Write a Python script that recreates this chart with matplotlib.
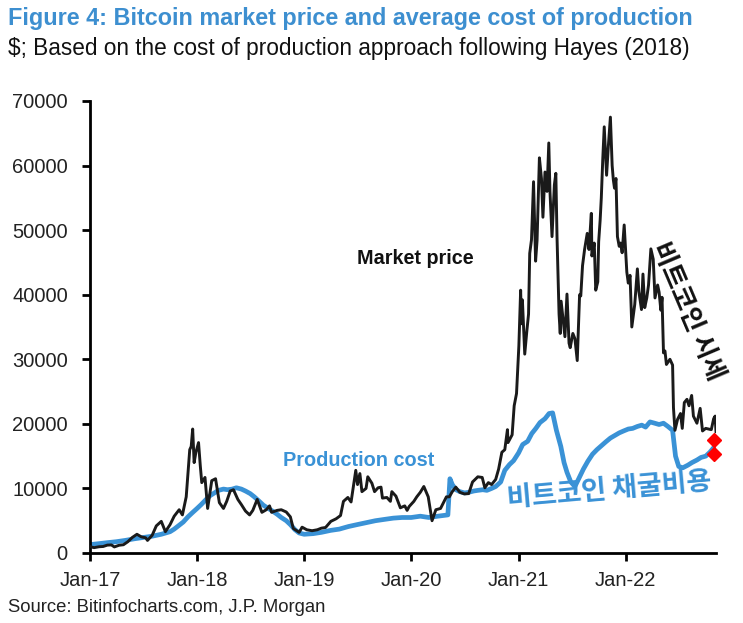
import matplotlib
matplotlib.use("Agg")
import matplotlib.pyplot as plt
import pandas as pd

# ---------------- data ----------------
price_dates = [
 "2017-01-01","2017-01-08","2017-01-15","2017-02-01","2017-02-15","2017-03-01","2017-03-15","2017-03-25",
 "2017-04-10","2017-04-25","2017-05-10","2017-05-25","2017-06-10","2017-06-25","2017-07-10",
 "2017-07-16","2017-08-01","2017-08-15","2017-09-01","2017-09-15","2017-10-01","2017-10-15",
 "2017-11-01","2017-11-12","2017-11-25","2017-12-07","2017-12-12","2017-12-17","2017-12-22",
 "2017-12-28","2018-01-06","2018-01-12","2018-01-17","2018-01-28","2018-02-06","2018-02-20",
 "2018-03-05","2018-03-18","2018-04-01","2018-04-12","2018-04-24","2018-05-05","2018-05-20",
 "2018-06-01","2018-06-15","2018-06-29","2018-07-10","2018-07-25","2018-08-10","2018-08-25",
 "2018-09-05","2018-09-12","2018-10-01","2018-10-15","2018-11-01","2018-11-15","2018-11-25",
 "2018-12-15","2018-12-25","2019-01-10","2019-01-28","2019-02-15","2019-03-01","2019-03-15",
 "2019-04-02","2019-04-20","2019-05-05","2019-05-15","2019-05-30","2019-06-10","2019-06-26",
 "2019-07-02","2019-07-10","2019-07-17","2019-07-31","2019-08-06","2019-08-20","2019-08-29",
 "2019-09-10","2019-09-20","2019-09-25","2019-10-10","2019-10-22","2019-10-27","2019-11-10",
 "2019-11-25","2019-12-10","2019-12-18","2019-12-25","2020-01-10","2020-01-20","2020-02-01",
 "2020-02-13","2020-02-28","2020-03-12","2020-03-25","2020-04-10","2020-04-30","2020-05-10",
 "2020-05-20","2020-06-01","2020-06-15","2020-06-30","2020-07-15","2020-07-28","2020-08-15",
 "2020-08-30","2020-09-08","2020-09-20","2020-10-01","2020-10-15","2020-10-25","2020-11-05",
 "2020-11-15","2020-11-24","2020-11-26","2020-12-10","2020-12-17","2020-12-25","2021-01-02",
 "2021-01-08","2021-01-11","2021-01-14","2021-01-22","2021-01-29","2021-02-04","2021-02-08",
 "2021-02-14","2021-02-21","2021-02-28","2021-03-05","2021-03-13","2021-03-20","2021-03-25",
 "2021-04-01","2021-04-08","2021-04-14","2021-04-18","2021-04-25","2021-05-03","2021-05-08",
 "2021-05-12","2021-05-19","2021-05-23","2021-05-26","2021-06-01","2021-06-08","2021-06-15",
 "2021-06-22","2021-06-26","2021-07-05","2021-07-12","2021-07-20","2021-07-28","2021-08-01",
 "2021-08-07","2021-08-14","2021-08-23","2021-08-29","2021-09-06","2021-09-08","2021-09-16",
 "2021-09-21","2021-09-28","2021-10-01","2021-10-06","2021-10-10","2021-10-15","2021-10-20",
 "2021-10-28","2021-11-03","2021-11-10","2021-11-16","2021-11-20","2021-11-24","2021-11-29",
 "2021-12-04","2021-12-10","2021-12-15","2021-12-20","2021-12-27","2022-01-05","2022-01-10",
 "2022-01-16","2022-01-22","2022-02-01","2022-02-10","2022-02-15","2022-02-24","2022-03-01",
 "2022-03-07","2022-03-14","2022-03-20","2022-03-28","2022-04-05","2022-04-11","2022-04-20",
 "2022-04-25","2022-05-01","2022-05-05","2022-05-10","2022-05-15","2022-05-20","2022-06-01",
 "2022-06-10","2022-06-13","2022-06-18","2022-06-27","2022-07-07","2022-07-13","2022-07-20",
 "2022-07-29","2022-08-05","2022-08-14","2022-08-20","2022-09-01","2022-09-12","2022-09-20",
 "2022-10-01","2022-10-10","2022-10-20","2022-10-28","2022-11-02","2022-11-05",
]
market_price = [
 1000, 900, 830, 970, 1010, 1220, 1250, 940,
 1200, 1280, 1750, 2400, 2900, 2500, 2350,
 1950, 2750, 4200, 4900, 3300, 4400, 5700,
 6700, 5900, 8700, 16000, 16500, 19200, 14000,
 15600, 17100, 13500, 10900, 11700, 6900, 11200,
 11500, 7800, 6900, 8000, 9600, 9800, 8300,
 7500, 6500, 5900, 6600, 8300, 6300, 6700,
 7300, 6300, 6600, 6700, 6350, 5600, 3800,
 3200, 4000, 3600, 3450, 3600, 3850, 3950,
 4900, 5300, 5800, 8000, 8600, 7900, 12800,
 10600, 12300, 9500, 10000, 11800, 10800, 9500,
 10100, 10200, 8500, 8600, 8000, 9500, 8800,
 7000, 7300, 6600, 7200, 8000, 8700, 9400,
 10300, 8700, 5000, 6700, 6900, 8700, 8700,
 9500, 10200, 9400, 9150, 9200, 11000, 11800,
 11700, 10100, 10900, 10600, 11400, 13000, 15600,
 16000, 19100, 17100, 18300, 22800, 24700, 32100,
 40700, 35500, 39200, 30800, 34300, 37000, 46400,
 48500, 57500, 45200, 48400, 61200, 58000, 52000,
 59000, 56000, 63500, 56000, 49000, 57000, 58800,
 49000, 37000, 34000, 39000, 36500, 33500, 40100,
 32500, 31800, 34000, 33200, 29800, 40000, 39800,
 44500, 47000, 49500, 47000, 52600, 46000, 48000,
 40700, 42000, 48200, 51500, 55000, 61000, 66000,
 58500, 63000, 67500, 60000, 57800, 56500, 58000,
 49000, 47500, 48000, 46500, 50800, 43500, 41800,
 43000, 35000, 38500, 44000, 40500, 37700, 43200,
 38000, 39500, 41500, 47100, 45500, 39500, 41500,
 40400, 37600, 39600, 31000, 31300, 29200, 30000,
 29100, 22500, 19000, 20700, 21600, 19300, 23300,
 23800, 22800, 24400, 21200, 20100, 22400, 18900,
 19300, 19200, 19100, 20800, 21200, 18800,
]

cost_dates = [
 "2017-01-01","2017-02-01","2017-03-01","2017-04-01","2017-05-01","2017-06-01","2017-07-01",
 "2017-08-01","2017-09-01","2017-10-01","2017-10-15","2017-11-01","2017-11-15","2017-12-01",
 "2017-12-15","2018-01-01","2018-01-15","2018-02-01","2018-02-15","2018-03-01","2018-03-15",
 "2018-04-01","2018-04-15","2018-05-01","2018-05-15","2018-06-01","2018-06-15","2018-07-01",
 "2018-07-15","2018-08-01","2018-08-15","2018-09-01","2018-09-15","2018-10-01","2018-10-15",
 "2018-11-01","2018-11-15","2018-12-01","2018-12-15","2019-01-01","2019-02-01","2019-03-01",
 "2019-04-01","2019-05-01","2019-06-01","2019-07-01","2019-08-01","2019-09-01","2019-10-01",
 "2019-11-01","2019-12-01","2020-01-01","2020-02-01","2020-03-01","2020-04-01","2020-05-05",
 "2020-05-12","2020-05-20","2020-06-01","2020-06-15","2020-07-01","2020-07-15","2020-08-01",
 "2020-08-15","2020-09-01","2020-09-15","2020-10-01","2020-10-15","2020-11-01","2020-11-15",
 "2020-12-01","2020-12-15","2021-01-01","2021-01-15","2021-02-01","2021-02-15","2021-03-01",
 "2021-03-15","2021-04-01","2021-04-15","2021-04-27","2021-05-10","2021-05-25","2021-06-05",
 "2021-06-15","2021-06-28","2021-07-12","2021-07-25","2021-08-10","2021-08-25","2021-09-10",
 "2021-09-25","2021-10-10","2021-10-25","2021-11-10","2021-11-25","2021-12-10","2021-12-25",
 "2022-01-10","2022-01-25","2022-02-10","2022-02-25","2022-03-10","2022-03-25","2022-04-10",
 "2022-04-25","2022-05-10","2022-05-25","2022-06-10","2022-06-20","2022-07-01","2022-07-15",
 "2022-08-01","2022-08-15","2022-09-01","2022-09-15","2022-10-01","2022-10-15","2022-10-28",
]
production_cost = [
 1300, 1450, 1600, 1750, 1950, 2200, 2400,
 2600, 2900, 3300, 3700, 4300, 4800, 5600,
 6200, 6900, 7500, 8300, 8900, 9300, 9700,
 9900, 9800, 9900, 10100, 9900, 9600, 9200,
 8700, 8000, 7400, 6900, 6500, 6000, 5500,
 5000, 4400, 3600, 3100, 2900, 3000, 3200,
 3500, 3700, 4100, 4400, 4700, 5000, 5200,
 5400, 5500, 5500, 5700, 5500, 5700, 5900,
 11500, 10600, 9800, 9500, 9300, 9400, 9600,
 9700, 9800, 9700, 10000, 10300, 11000, 12800,
 13700, 14300, 15500, 16800, 17300, 18500, 19300,
 20200, 20800, 21600, 21700, 19000, 16500, 14000,
 12500, 11000, 10300, 11500, 13000, 14200, 15300,
 16000, 16600, 17200, 17800, 18200, 18600, 18900,
 19200, 19300, 19600, 19800, 19500, 20300, 20100,
 19900, 20100, 19600, 19000, 15000, 13400, 13200,
 13600, 14000, 14400, 14800, 15000, 15600, 16300,
]

marker_values = [17500, 15300]
x_tick_dates = ["2017-01-01", "2018-01-01", "2019-01-01", "2020-01-01", "2021-01-01", "2022-01-01"]
x_tick_labels = ["Jan-17", "Jan-18", "Jan-19", "Jan-20", "Jan-21", "Jan-22"]
y_ticks = [0, 10000, 20000, 30000, 40000, 50000, 60000, 70000]

# ---------------- style ----------------
FONT = ["Liberation Sans", "DejaVu Sans"]
KR = ["Noto Sans CJK KR", "DejaVu Sans"]
BLUE = "#3A92D6"
TITLE_BLUE = "#3D8FD0"

plt.rcParams["font.family"] = FONT

W, H = 743, 623
fig = plt.figure(figsize=(W / 100, H / 100), dpi=100)
ax = fig.add_axes([90 / W, 1 - 553 / H, (716 - 90) / W, (553 - 101) / H])

pd_price = pd.to_datetime(price_dates)
pd_cost = pd.to_datetime(cost_dates)

ax.plot(pd_cost, production_cost, color=BLUE, lw=3.4, solid_joinstyle="round", zorder=2)
ax.plot(pd_price, market_price, color="#1a1a1a", lw=2.1, solid_joinstyle="round", zorder=3)

last = pd_cost[-1]
ax.plot([last, last], marker_values, linestyle="none", marker="D", markersize=7,
        color="#FF0000", zorder=4, clip_on=False)

ax.set_ylim(0, 70000)
ax.set_xlim(pd.Timestamp("2017-01-01"), pd.Timestamp("2022-11-05"))
ax.set_yticks(y_ticks)
ax.set_yticklabels([str(v) for v in y_ticks])
ax.set_xticks(pd.to_datetime(x_tick_dates))
ax.set_xticklabels(x_tick_labels)

for s in ["top", "right"]:
    ax.spines[s].set_visible(False)
for s in ["left", "bottom"]:
    ax.spines[s].set_linewidth(2.0)
    ax.spines[s].set_color("black")
ax.tick_params(axis="both", direction="out", length=6, width=2.0, color="black",
               labelsize=14.5, labelcolor="#222222")
ax.tick_params(axis="y", pad=10)
ax.tick_params(axis="x", pad=7)

# ---------------- texts ----------------
fig.text(8 / W, 1 - 18 / H, "Figure 4: Bitcoin market price and average cost of production",
         color=TITLE_BLUE, fontsize=16.8, fontweight="bold", va="center", ha="left")
fig.text(8 / W, 1 - 49 / H, "$; Based on the cost of production approach following Hayes (2018)",
         color="#111111", fontsize=16.3, va="center", ha="left")
fig.text(8 / W, 1 - 607 / H, "Source: Bitinfocharts.com, J.P. Morgan",
         color="#222222", fontsize=13.3, va="center", ha="left")

fig.text(415 / W, 1 - 258 / H, "Market price", color="#111111", fontsize=14.2,
         fontweight="bold", va="center", ha="center")
fig.text(359 / W, 1 - 460 / H, "Production cost", color=BLUE, fontsize=14.3,
         fontweight="bold", va="center", ha="center")

fig.text(688 / W, 1 - 311 / H, "비트코인 시세", family=KR, color="#111111", fontsize=18.5,
         fontweight="bold", rotation=-67, va="center", ha="center", rotation_mode="anchor")
fig.text(609 / W, 1 - 490 / H, "비트코인 채굴비용", family=KR, color=BLUE, fontsize=19.5,
         fontweight="bold", rotation=5, va="center", ha="center", rotation_mode="anchor")

fig.savefig("out.png", dpi=100)
